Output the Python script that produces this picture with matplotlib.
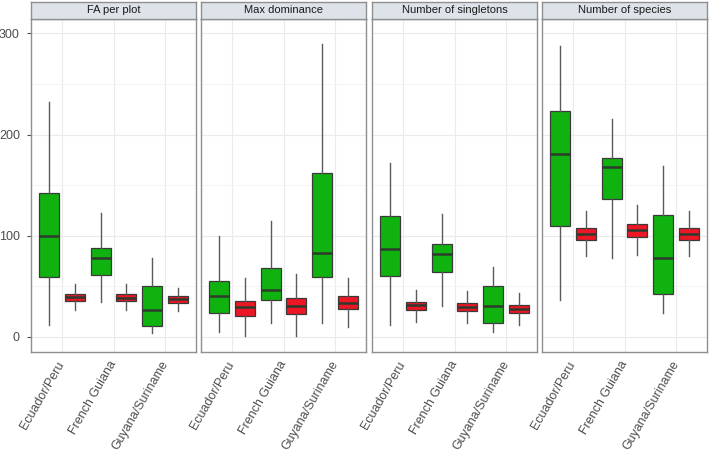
import numpy as np
import matplotlib.pyplot as plt

plt.rcParams['font.family'] = ['Liberation Sans', 'DejaVu Sans']

regions = ["Ecuador/Peru", "French Guiana", "Guyana/Suriname"]
panels = ["FA per plot", "Max dominance", "Number of singletons", "Number of species"]

# five-number summaries per region: whisker low, q1, median, q3, whisker high
fa_green = [(12, 59, 100, 142, 232), (34, 61, 78, 88, 122), (4, 11, 26, 50, 78)]
fa_red = [(26, 35, 39, 42.5, 52), (26, 35, 38.6, 42, 52), (25, 33.6, 37, 40, 48)]
dom_green = [(5, 23, 40, 55, 100), (14, 36, 46, 68, 114), (14, 59, 83, 162, 290)]
dom_red = [(1, 21, 29.4, 35.6, 58), (1, 22, 30.7, 38, 62), (10, 27.7, 33.6, 40, 58)]
sing_green = [(12, 60, 87, 119, 172), (30, 64, 82, 92, 121), (5, 13.6, 30, 50, 69)]
sing_red = [(15, 26.7, 31.4, 34.6, 46.5), (14, 25.4, 29.7, 33.6, 45.5), (12, 23.4, 27.7, 31.7, 43.5)]
spec_green = [(36, 110, 181, 223, 288), (78, 136, 168, 177, 215), (23, 42.5, 78, 120, 169)]
spec_red = [(80, 96, 102, 108, 124), (81, 99, 106, 112, 130), (80, 96, 102, 108, 124)]

green_sets = [fa_green, dom_green, sing_green, spec_green]
red_sets = [fa_red, dom_red, sing_red, spec_red]

W, H = 709, 455
fig = plt.figure(figsize=(W / 100, H / 100), dpi=100)

lefts = [31, 201, 372, 542]
pw = 165
top, bottom = 18.5, 352.3
strip_top = 1.5


def make_stats(summ):
    out = []
    for lo, q1, med, q3, hi in summ:
        out.append(dict(whislo=lo, q1=q1, med=med, q3=q3, whishi=hi, fliers=[]))
    return out


pos = np.arange(1, len(regions) + 1)
for i, name in enumerate(panels):
    ax = fig.add_axes([lefts[i] / W, 1 - bottom / H, pw / W, (bottom - top) / H])
    ax.set_xlim(0.4, 3.6)
    ax.set_ylim(-15.4, 314.8)
    ax.set_yticks([0, 100, 200, 300])
    ax.set_yticks([50, 150, 250], minor=True)
    ax.set_xticks(pos)
    ax.grid(which='major', color='#ebebeb', lw=0.8)
    ax.grid(which='minor', axis='y', color='#f3f3f3', lw=0.6)
    ax.set_axisbelow(True)

    for stats, off, col in [(green_sets[i], -0.25, '#10b210'), (red_sets[i], 0.25, '#ec1624')]:
        ax.bxp(make_stats(stats), positions=pos + off, widths=0.39, patch_artist=True,
               showcaps=False, showfliers=False,
               boxprops=dict(facecolor=col, edgecolor='#3a3a3a', lw=0.9),
               whiskerprops=dict(color='#5a5a5a', lw=1.0),
               medianprops=dict(color='#2e3a2e', lw=1.8))

    for s in ax.spines.values():
        s.set_color('#8f8f8f')
        s.set_linewidth(1.0)
    ax.set_xticks(pos)
    ax.set_xticklabels(regions, rotation=60, ha='right', va='center',
                       rotation_mode='anchor', fontsize=9, color='#4d4d4d')
    ax.tick_params(axis='x', length=0, pad=7)
    if i == 0:
        ax.tick_params(axis='y', which='major', length=3, color='#4d4d4d',
                       labelsize=9, labelcolor='#4d4d4d', pad=5)
    else:
        ax.tick_params(axis='y', which='major', length=0, labelleft=False)
    ax.tick_params(axis='y', which='minor', length=0)

    sx = fig.add_axes([lefts[i] / W, 1 - top / H, pw / W, (top - strip_top) / H])
    sx.set_facecolor('#dde3e8')
    sx.set_xticks([])
    sx.set_yticks([])
    for s in sx.spines.values():
        s.set_color('#8f8f8f')
        s.set_linewidth(1.0)
    sx.text(0.5, 0.5, name, ha='center', va='center', fontsize=8,
            color='#1a1a1a', transform=sx.transAxes)

fig.savefig("out.png", dpi=100)
